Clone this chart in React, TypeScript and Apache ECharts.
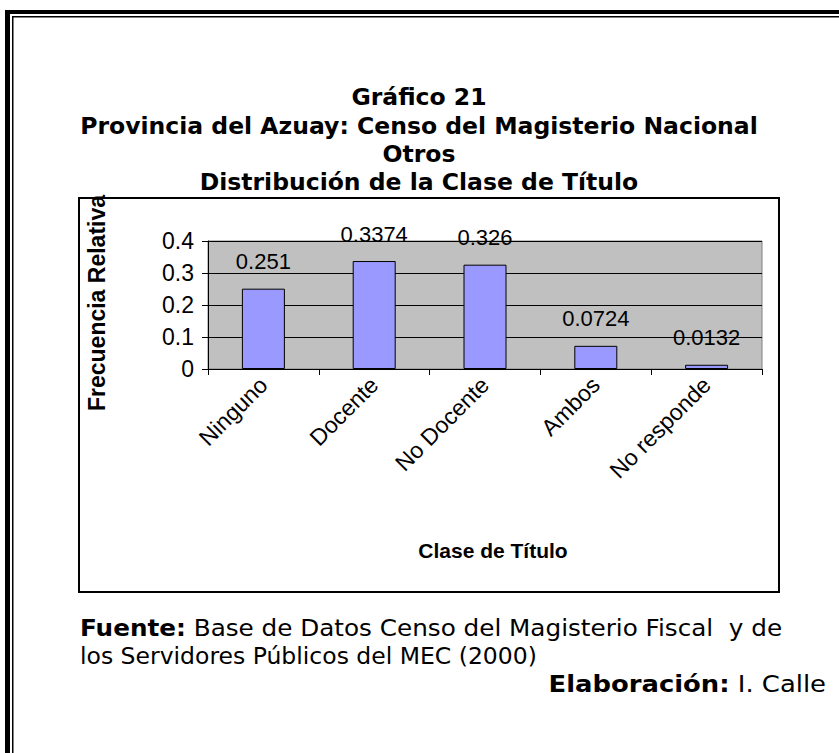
import React, { useEffect, useRef } from "react";
import * as echarts from "echarts";

const categories = ["Ninguno", "Docente", "No Docente", "Ambos", "No responde"];
const values = [0.251, 0.3374, 0.326, 0.0724, 0.0132];
const yMin = 0;
const yMax = 0.4;
const yStep = 0.1;
const titleLines = [
  "Gráfico 21",
  "Provincia del Azuay: Censo del Magisterio Nacional",
  "Otros",
  "Distribución de la Clase de Título",
];
const yAxisTitle = "Frecuencia Relativa";
const xAxisTitle = "Clase de Título";
const sourceLine1 = "{b|Fuente:} Base de Datos Censo del Magisterio Fiscal  y de";
const sourceLine2 = "los Servidores Públicos del MEC (2000)";
const creditLine = "{b|Elaboración:} I. Calle";

const W = 839;
const H = 753;
const ARIAL = "'Liberation Sans', Arial, sans-serif";
const TAHOMA = "'DejaVu Sans', Tahoma, sans-serif";

export default function App() {
  const ref = useRef<HTMLDivElement>(null);
  useEffect(() => {
    if (!ref.current) return;
    const chart = echarts.init(ref.current, null, { renderer: "svg" });
    const titleY = [97, 126, 154, 182];
    const graphic: any[] = [
      { type: "rect", shape: { x: 5, y: 10, width: 5, height: H - 10 }, style: { fill: "#000" } },
      { type: "rect", shape: { x: 5, y: 10, width: W - 5, height: 4 }, style: { fill: "#000" } },
      { type: "rect", shape: { x: 12, y: 16, width: 1.5, height: H - 16 }, style: { fill: "#000" } },
      { type: "rect", shape: { x: 12, y: 16, width: W - 12, height: 1.5 }, style: { fill: "#000" } },
      { type: "rect", shape: { x: 79, y: 198, width: 700, height: 394 }, style: { fill: "none", stroke: "#000", lineWidth: 2 } },
      ...titleLines.map((t, i) => ({
        type: "text",
        x: 419,
        y: titleY[i],
        style: { text: t, fontFamily: TAHOMA, fontWeight: "bold", fontSize: 23.5, fill: "#000", align: "center", verticalAlign: "middle" },
      })),
      {
        type: "text",
        x: 97,
        y: 303,
        rotation: Math.PI / 2,
        style: { text: yAxisTitle, fontFamily: ARIAL, fontWeight: "bold", fontSize: 23, fill: "#000", align: "center", verticalAlign: "middle" },
      },
      {
        type: "text",
        x: 493,
        y: 550,
        style: { text: xAxisTitle, fontFamily: ARIAL, fontWeight: "bold", fontSize: 21, fill: "#000", align: "center", verticalAlign: "middle" },
      },
      {
        type: "text",
        x: 80,
        y: 628,
        scaleX: 1.05,
        style: { text: sourceLine1, fontFamily: TAHOMA, fontSize: 23.5, fill: "#000", align: "left", verticalAlign: "middle", rich: { b: { fontFamily: TAHOMA, fontSize: 23.5, fontWeight: "bold", fill: "#000" } } },
      },
      {
        type: "text",
        x: 80,
        y: 656,
        style: { text: sourceLine2, fontFamily: TAHOMA, fontSize: 23.5, fill: "#000", align: "left", verticalAlign: "middle" },
      },
      {
        type: "text",
        x: 826,
        y: 684,
        scaleX: 1.1,
        style: { text: creditLine, fontFamily: TAHOMA, fontSize: 23.5, fill: "#000", align: "right", verticalAlign: "middle", rich: { b: { fontFamily: TAHOMA, fontSize: 23.5, fontWeight: "bold", fill: "#000" } } },
      },
    ];

    chart.setOption({
      animation: false,
      backgroundColor: "#fff",
      grid: {
        left: 208,
        top: 241,
        width: 554,
        height: 128,
        show: true,
        backgroundColor: "#c0c0c0",
        borderColor: "#808080",
        borderWidth: 1,
      },
      xAxis: {
        type: "category",
        data: categories,
        boundaryGap: true,
        axisLine: { show: true, lineStyle: { color: "#000", width: 1 } },
        axisTick: { show: true, alignWithLabel: false, length: 6, lineStyle: { color: "#000" } },
        axisLabel: {
          interval: 0,
          rotate: 45,
          margin: 12,
          fontSize: 23,
          fontFamily: ARIAL,
          color: "#000",
        },
      },
      yAxis: {
        type: "value",
        min: yMin,
        max: yMax,
        interval: yStep,
        axisLine: { show: true, lineStyle: { color: "#000", width: 1 } },
        axisTick: { show: true, length: 6, lineStyle: { color: "#000" } },
        axisLabel: { fontSize: 23, fontFamily: ARIAL, color: "#000", margin: 14 },
        splitLine: { show: true, lineStyle: { color: "#000", width: 1 } },
      },
      series: [
        {
          type: "bar",
          data: values,
          barWidth: 43,
          itemStyle: { color: "#9999ff", borderColor: "#000", borderWidth: 1 },
          label: {
            show: true,
            position: "top",
            distance: 16,
            fontSize: 22,
            fontFamily: ARIAL,
            color: "#000",
            formatter: (p: any) => String(p.value),
          },
        },
      ],
      graphic,
    });
    return () => chart.dispose();
  }, []);
  return (
    <div
      ref={ref}
      style={{ position: "absolute", left: 0, top: 0, width: W, height: H, background: "#fff" }}
    />
  );
}
